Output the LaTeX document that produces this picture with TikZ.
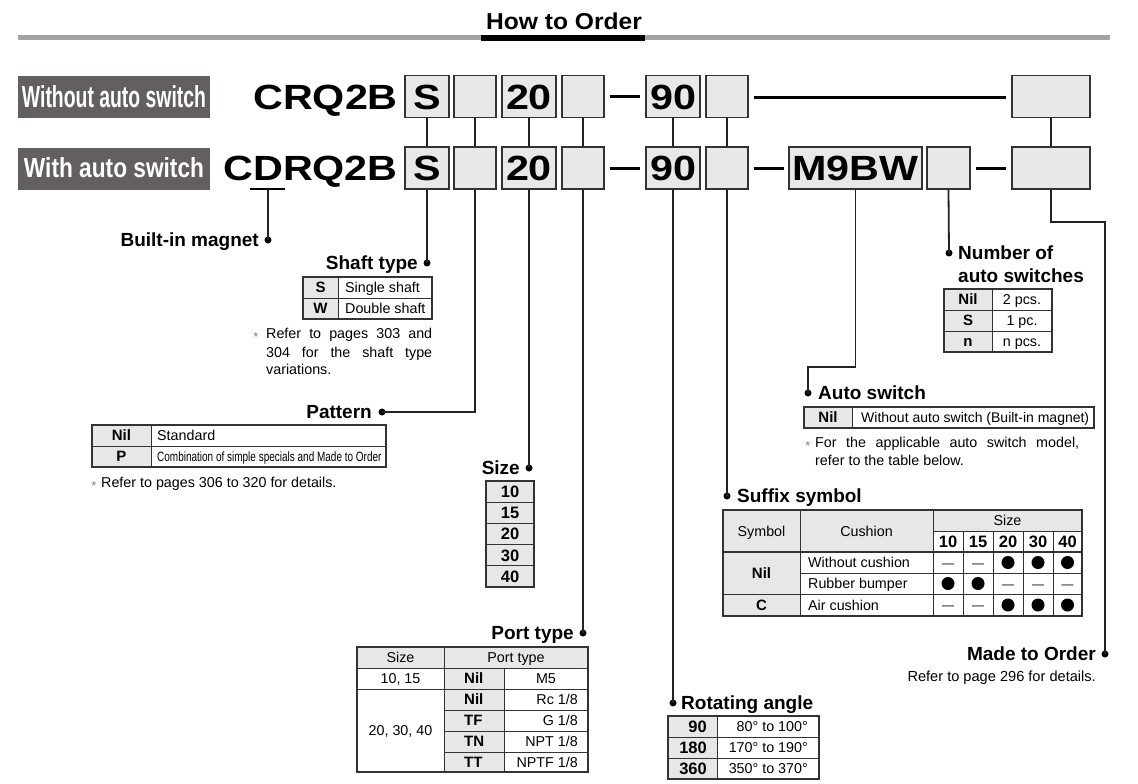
\documentclass[tikz,border=0pt]{standalone}
\usepackage{fontspec}
\setmainfont{Liberation Sans}
\usetikzlibrary{calc}
\definecolor{partfill}{HTML}{E7E8E8}
\definecolor{boxc}{HTML}{333333}
\definecolor{tg}{HTML}{E6E7E7}
\definecolor{labc}{HTML}{635F5F}
\definecolor{rulegray}{HTML}{A3A3A3}
\definecolor{linec}{HTML}{222222}
\newcommand\bigtxt[1]{\scalebox{1.18}[1]{#1}}
\begin{document}
\begin{tikzpicture}[x=1pt,y=-1pt,
  conn/.style={line width=1.8pt, draw=linec},
  sep/.style={line width=3pt, draw=black},
  dotm/.style={circle, fill=black, inner sep=0pt, minimum size=7pt},
  part/.style={draw=boxc, fill=partfill, line width=1.4pt, inner sep=0pt, minimum height=42pt, text height=25pt, text depth=0pt, font=\fontsize{35}{40}\selectfont\bfseries},
  big/.style={inner sep=0pt, text height=25pt, text depth=0pt, font=\fontsize{35}{40}\selectfont\bfseries},
  lab/.style={fill=labc, inner sep=0pt, minimum width=192pt, minimum height=42pt, text=white},
  tt/.style={inner sep=0pt, font=\fontsize{14.3}{17}\selectfont, text height=10.2pt, text depth=0pt},
  tk/.style={inner sep=0pt, font=\fontsize{15}{17}\selectfont\bfseries, text height=10.8pt, text depth=0pt},
  tn/.style={inner sep=0pt, font=\fontsize{16.5}{19}\selectfont\bfseries, text height=11.8pt, text depth=0pt},
  hd/.style={inner sep=0pt, font=\fontsize{19}{22}\selectfont\bfseries, text height=13.6pt, text depth=0pt},
  ast/.style={inner sep=0pt, font=\fontsize{13}{14}\selectfont, text=gray},
  tout/.style={line width=1.5pt, draw=boxc},
  tin/.style={line width=0.9pt, draw=boxc},
  bdot/.style={circle, fill=black, inner sep=0pt, minimum size=13pt},
  bdash/.style={inner sep=0pt, yshift=-3pt, font=\fontsize{12}{14}\selectfont}
]
\useasboundingbox (0,0) rectangle (1138,784);

% ---------- title ----------
\node[inner sep=0pt, text height=16.5pt, text depth=0pt, font=\fontsize{23}{26}\selectfont\bfseries] (title) at (564,21) {\scalebox{1.07}[1]{How to Order}};
\fill[rulegray] (18,35.5) rectangle (1110,40);
\fill[black] (481,35) rectangle (645,41);

% ---------- labels ----------
\node[lab] (lab1) at (114,97) {\raisebox{1pt}{\resizebox{184pt}{22pt}{\bfseries Without auto switch}}};
\node[lab] (lab2) at (114,169) {\raisebox{2pt}{\resizebox{180pt}{20pt}{\bfseries With auto switch}}};

% ---------- row 1 ----------
\node[big, anchor=east] (m1) at (398,96.5) {\bigtxt{CRQ2B}};
\node[part, minimum width=44pt] (p1s) at (427,96.5) {\bigtxt{S}};
\node[part, minimum width=42pt] (p1b1) at (475,96.5) {};
\node[part, minimum width=54pt] (p1n) at (529,96.5) {\bigtxt{20}};
\node[part, minimum width=42pt] (p1b2) at (583,96.5) {};
\node[part, minimum width=54pt] (p1a) at (673,96.5) {\bigtxt{90}};
\node[part, minimum width=42pt] (p1b3) at (727,96.5) {};
\node[part, minimum width=78pt] (p1e) at (1051,96.5) {};
\coordinate (d1a) at (610,96.5); \coordinate (d1b) at (640,96.5);
\draw[sep] (d1a) -- (d1b);
\coordinate (l1a) at (754,97); \coordinate (l1b) at (1006,97);
\draw[sep] (l1a) -- (l1b);

% ---------- row 2 ----------
\node[big, anchor=east] (m2) at (398,168) {\bigtxt{CDRQ2B}};
\node[part, minimum width=44pt] (p2s) at (427,168) {\bigtxt{S}};
\node[part, minimum width=42pt] (p2b1) at (475,168) {};
\node[part, minimum width=54pt] (p2n) at (529,168) {\bigtxt{20}};
\node[part, minimum width=42pt] (p2b2) at (583,168) {};
\node[part, minimum width=54pt] (p2a) at (673,168) {\bigtxt{90}};
\node[part, minimum width=42pt] (p2b3) at (727,168) {};
\node[part, minimum width=133pt] (p2m) at (855.5,168) {\bigtxt{M9BW}};
\node[part, minimum width=43pt] (p2b4) at (948.5,168) {};
\node[part, minimum width=78pt] (p2e) at (1051,168) {};
\coordinate (d2a) at (610,168); \coordinate (d2b) at (640,168);
\draw[sep] (d2a) -- (d2b);
\coordinate (d3a) at (754,168); \coordinate (d3b) at (784,168);
\draw[sep] (d3a) -- (d3b);
\coordinate (d4a) at (976,168); \coordinate (d4b) at (1006,168);
\draw[sep] (d4a) -- (d4b);

% ---------- vertical links between rows ----------
\foreach \a/\b in {p1s/p2s,p1b1/p2b1,p1n/p2n,p1b2/p2b2,p1a/p2a,p1b3/p2b3,p1e/p2e}
  \draw[conn] (\a.south) -- (\b.north);

% ---------- built-in magnet ----------
\coordinate (ula) at (250,189); \coordinate (ulb) at (285,189);
\draw[line width=1.5pt] (ula) -- (ulb);
\coordinate (ulm) at (268,189);
\node[dotm] (dB) at (268,240) {};
\draw[conn] (ulm) -- (dB.center);
\node[hd, anchor=east] (hB) at (259,240) {Built-in magnet};

% ---------- shaft type ----------
\node[dotm] (dS) at (427,263) {};
\draw[conn] (p2s.south) -- (dS.center);
\node[hd, anchor=east] (hS) at (418,263) {Shaft type};
\fill[tg] (303,277) rectangle (338,319);
\draw[tin] (338,277) -- (338,319) (303,298) -- (432,298);
\draw[tout] (303,277) rectangle (432,319);
\node[tk] (sS) at (320.5,287.5) {S};
\node[tk] (sW) at (320.5,308.5) {W};
\node[tt, anchor=west] (sSv) at (345,287.5) {Single shaft};
\node[tt, anchor=west] (sWv) at (345,308.5) {Double shaft};
\node[ast] (sa) at (256,337) {*};
\node[tt, anchor=west] (sn1) at (266,333) {\makebox[166pt][s]{Refer to pages 303 and}};
\node[tt, anchor=west] (sn2) at (266,352) {\makebox[166pt][s]{304 for the shaft type}};
\node[tt, anchor=west] (sn3) at (266,369) {variations.};

% ---------- pattern ----------
\node[dotm] (dP) at (382,412) {};
\draw[conn] (p2b1.south) |- (dP.center);
\node[hd, anchor=east] (hP) at (372,412) {Pattern};
\fill[tg] (92,425) rectangle (151,467);
\draw[tin] (151,425) -- (151,467) (92,446) -- (386,446);
\draw[tout] (92,425) rectangle (386,467);
\node[tk] (pN) at (121.5,435.5) {Nil};
\node[tk] (pP) at (121.5,456.5) {P};
\node[tt, anchor=west] (pNv) at (157,435.5) {Standard};
\node[inner sep=0pt, anchor=west, text height=9.7pt, text depth=0pt, font=\fontsize{13.5}{15}\selectfont] (pPv) at (157,456.5) {\scalebox{0.74}[1]{Combination of simple specials and Made to Order}};
\node[ast] (pa) at (94,486) {*};
\node[tt, anchor=west] (pn) at (101,482) {Refer to pages 306 to 320 for details.};

% ---------- size ----------
\node[dotm] (dZ) at (529,468) {};
\draw[conn] (p2n.south) -- (dZ.center);
\node[hd, anchor=east] (hZ) at (520,468) {Size};
\fill[tg] (486,481) rectangle (534,587);
\draw[tin] (486,502.2) -- (534,502.2) (486,523.4) -- (534,523.4) (486,544.6) -- (534,544.6) (486,565.8) -- (534,565.8);
\draw[tout] (486,481) rectangle (534,587);
\node[tn] (z10) at (510,491.6) {10};
\node[tn] (z15) at (510,512.8) {15};
\node[tn] (z20) at (510,534) {20};
\node[tn] (z30) at (510,555.2) {30};
\node[tn] (z40) at (510,576.4) {40};

% ---------- port type ----------
\node[dotm] (dT) at (583,633) {};
\draw[conn] (p2b2.south) -- (dT.center);
\node[hd, anchor=east] (hT) at (574,633) {Port type};
\fill[tg] (357,647) rectangle (588,668);
\fill[tg] (444,668) rectangle (504,772);
\draw[tin] (444,647) -- (444,772) (504,668) -- (504,772)
  (357,668) -- (588,668) (357,689) -- (588,689)
  (444,710) -- (588,710) (444,731) -- (588,731) (444,752) -- (588,752);
\draw[tout] (357,647) rectangle (588,772);
\node[tt] (tH1) at (400.5,657.5) {Size};
\node[tt] (tH2) at (516,657.5) {Port type};
\node[tt] (tS1) at (400.5,678.5) {10, 15};
\node[tt] (tS2) at (400.5,730.5) {20, 30, 40};
\node[tk, anchor=west] (tK1) at (464,678.5) {Nil};
\node[tk, anchor=west] (tK2) at (464,699.5) {Nil};
\node[tk, anchor=west] (tK3) at (464,720.5) {TF};
\node[tk, anchor=west] (tK4) at (464,741.5) {TN};
\node[tk, anchor=west] (tK5) at (464,762) {TT};
\node[tt] (tV1) at (546,678.5) {M5};
\node[tt, anchor=east] (tV2) at (578,699.5) {Rc 1/8};
\node[tt, anchor=east] (tV3) at (578,720.5) {G 1/8};
\node[tt, anchor=east] (tV4) at (578,741.5) {NPT 1/8};
\node[tt, anchor=east] (tV5) at (578,762) {NPTF 1/8};

% ---------- rotating angle ----------
\node[dotm] (dR) at (673,703) {};
\draw[conn] (p2a.south) -- (dR.center);
\node[hd, anchor=west] (hR) at (681,703) {Rotating angle};
\fill[tg] (668,716) rectangle (717,779);
\draw[tin] (717,716) -- (717,779) (668,737) -- (819,737) (668,758) -- (819,758);
\draw[tout] (668,716) rectangle (819,779);
\node[tn, anchor=east] (r1) at (707,726.5) {90};
\node[tn, anchor=east] (r2) at (707,747.5) {180};
\node[tn, anchor=east] (r3) at (707,768.5) {360};
\node[tt, anchor=east] (r1v) at (808,726.5) {80° to 100°};
\node[tt, anchor=east] (r2v) at (808,747.5) {170° to 190°};
\node[tt, anchor=east] (r3v) at (808,768.5) {350° to 370°};

% ---------- suffix symbol ----------
\node[dotm] (dX) at (727,496) {};
\draw[conn] (p2b3.south) -- (dX.center);
\node[hd, anchor=west] (hX) at (737,496) {Suffix symbol};
\fill[tg] (723,510) rectangle (933,552);
\fill[tg] (933,510) rectangle (1082,531);
\fill[tg] (723,552) rectangle (800,616);
\draw[tin] (800,510) -- (800,616) (933,510) -- (933,616)
  (963,531) -- (963,616) (993,531) -- (993,616) (1023,531) -- (1023,616) (1053,531) -- (1053,616)
  (933,531) -- (1082,531) (800,573) -- (1082,573) (723,594) -- (1082,594);
\draw[tout] (723,552) -- (1082,552);
\draw[tout] (723,510) rectangle (1082,616);
\node[tt] (xH1) at (761.5,531) {Symbol};
\node[tt] (xH2) at (866.5,531) {Cushion};
\node[tt] (xH3) at (1007.5,520.5) {Size};
\node[tn] (xs1) at (948,541.5) {10};
\node[tn] (xs2) at (978,541.5) {15};
\node[tn] (xs3) at (1008,541.5) {20};
\node[tn] (xs4) at (1038,541.5) {30};
\node[tn] (xs5) at (1067.5,541.5) {40};
\node[tk] (xN) at (761.5,573) {Nil};
\node[tk] (xC) at (761.5,605) {C};
\node[tt, anchor=west] (xc1) at (808,562.5) {Without cushion};
\node[tt, anchor=west] (xc2) at (808,583.5) {Rubber bumper};
\node[tt, anchor=west] (xc3) at (808,605) {Air cushion};
% marks
\node[bdash] (a11) at (948,562.5) {—};
\node[bdash] (a12) at (978,562.5) {—};
\node[bdot] (a13) at (1008,562.5) {};
\node[bdot] (a14) at (1038,562.5) {};
\node[bdot] (a15) at (1067.5,562.5) {};
\node[bdot] (a21) at (948,583.5) {};
\node[bdot] (a22) at (978,583.5) {};
\node[bdash] (a23) at (1008,583.5) {—};
\node[bdash] (a24) at (1038,583.5) {—};
\node[bdash] (a25) at (1067.5,583.5) {—};
\node[bdash] (a31) at (948,605) {—};
\node[bdash] (a32) at (978,605) {—};
\node[bdot] (a33) at (1008,605) {};
\node[bdot] (a34) at (1038,605) {};
\node[bdot] (a35) at (1067.5,605) {};

% ---------- auto switch ----------
\node[dotm] (dA) at (808,393) {};
\draw[conn] (p2m.south) -- ++(0,177) -| (dA.center);
\node[hd, anchor=west] (hA) at (818,393) {Auto switch};
\fill[tg] (804,407) rectangle (852,428);
\draw[tin] (852,407) -- (852,428);
\draw[tout] (804,407) rectangle (1094,428);
\node[tk] (aN) at (828,417.5) {Nil};
\node[tt, anchor=west, font=\fontsize{14}{17}\selectfont] (aNv) at (861,417.5) {Without auto switch (Built-in magnet)};
\node[ast] (aa) at (808,446) {*};
\node[tt, anchor=west] (an1) at (815,442) {\makebox[264pt][s]{For the applicable auto switch model,}};
\node[tt, anchor=west] (an2) at (815,460) {refer to the table below.};

% ---------- number of auto switches ----------
\node[dotm] (dN) at (949,253) {};
\draw[conn] (p2b4.south) -- (dN.center);
\node[hd, anchor=west] (hN1) at (958,253) {Number of};
\node[hd, anchor=west] (hN2) at (958,276) {auto switches};
\fill[tg] (944,289) rectangle (992,352);
\draw[tin] (992,289) -- (992,352) (944,310) -- (1052,310) (944,331) -- (1052,331);
\draw[tout] (944,289) rectangle (1052,352);
\node[tk] (nN) at (968,299.5) {Nil};
\node[tk] (nS) at (968,320.5) {S};
\node[tk] (nn) at (968,341.5) {n};
\node[tt] (nNv) at (1022,299.5) {2 pcs.};
\node[tt] (nSv) at (1022,320.5) {1 pc.};
\node[tt] (nnv) at (1022,341.5) {n pcs.};

% ---------- made to order ----------
\node[dotm] (dM) at (1105,654) {};
\draw[conn] (p2e.south) -- ++(0,32) -| (dM.center);
\node[hd, anchor=east] (hM) at (1096,654) {Made to Order};
\node[tt, anchor=east, font=\fontsize{14.6}{17}\selectfont] (hMv) at (1096,676) {Refer to page 296 for details.};
\end{tikzpicture}
\end{document}
